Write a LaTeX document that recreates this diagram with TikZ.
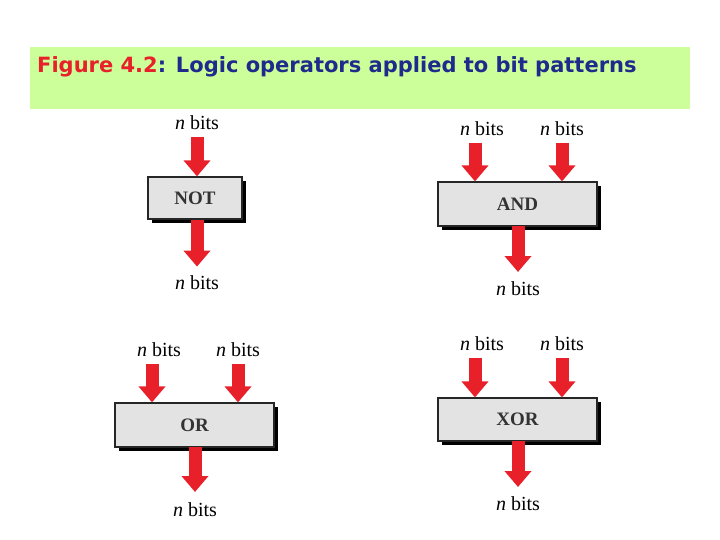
\documentclass[tikz,border=0pt]{standalone}
\usepackage{fontspec}
\setmainfont{Liberation Serif}
\newfontfamily\titlefont{DejaVu Sans}
\usetikzlibrary{arrows.meta}
\definecolor{band}{HTML}{CCFF99}
\definecolor{tred}{HTML}{E8202A}
\definecolor{tblue}{HTML}{1F2A8C}
\definecolor{boxfill}{HTML}{E3E3E3}
\begin{document}
\begin{tikzpicture}[x=1pt,y=-1pt,
  opbox/.style={draw=black!85,line width=1.2pt,fill=boxfill,inner sep=0pt,font=\bfseries\fontsize{19}{19}\selectfont,text=black!80,
    preaction={fill=black,transform canvas={shift={(4pt,-4pt)}}}},
  bits/.style={font=\fontsize{20}{20}\selectfont,inner sep=0pt},
  flow/.style={draw=tred,line width=13pt,-{Triangle[length=16pt,width=26pt]}}]
\useasboundingbox (0,0) rectangle (720,540);
\fill[band] (30,47) rectangle (690,109);
\node[anchor=west,font=\titlefont\bfseries\fontsize{21}{21}\selectfont,inner sep=0pt] (title) at (37,67)
  {\textcolor{tred}{Figure 4.2}\textcolor{tblue}{: Logic operators applied to bit patterns}};
\newcommand\bits{\textit{n} bits}
% NOT
\node[opbox,minimum width=94pt,minimum height=42pt] (not) at (195,198) {NOT};
\node[bits] (n1) at (197,123) {\bits};
\node[bits] (n2) at (197,283) {\bits};
\coordinate (n1a) at (197,137);
\draw[flow] (n1a) -- (n1a|-not.north);
\draw[flow] (not.south-|n1a) -- ++(0,47);
% AND
\node[opbox,minimum width=159pt,minimum height=44pt] (and) at (517.5,204) {AND};
\node[bits] (a1) at (482,129) {\bits};
\node[bits] (a2) at (562,129) {\bits};
\node[bits] (a3) at (518,289) {\bits};
\coordinate (a1a) at (475,143); \coordinate (a2a) at (562,143); \coordinate (a3a) at (518,226);
\draw[flow] (a1a) -- (a1a|-and.north);
\draw[flow] (a2a) -- (a2a|-and.north);
\draw[flow] (a3a) -- ++(0,46);
% OR
\node[opbox,minimum width=159pt,minimum height=44pt] (or) at (194.5,425) {OR};
\node[bits] (o1) at (159,350) {\bits};
\node[bits] (o2) at (238,350) {\bits};
\node[bits] (o3) at (195,510) {\bits};
\coordinate (o1a) at (152,364); \coordinate (o2a) at (238,364); \coordinate (o3a) at (195,447);
\draw[flow] (o1a) -- (o1a|-or.north);
\draw[flow] (o2a) -- (o2a|-or.north);
\draw[flow] (o3a) -- ++(0,45);
% XOR
\node[opbox,minimum width=159pt,minimum height=43pt] (xor) at (517.5,419.5) {XOR};
\node[bits] (x1) at (482,344) {\bits};
\node[bits] (x2) at (562,344) {\bits};
\node[bits] (x3) at (518,504) {\bits};
\coordinate (x1a) at (475,358); \coordinate (x2a) at (562,358); \coordinate (x3a) at (518,441);
\draw[flow] (x1a) -- (x1a|-xor.north);
\draw[flow] (x2a) -- (x2a|-xor.north);
\draw[flow] (x3a) -- ++(0,46);
\end{tikzpicture}
\end{document}
